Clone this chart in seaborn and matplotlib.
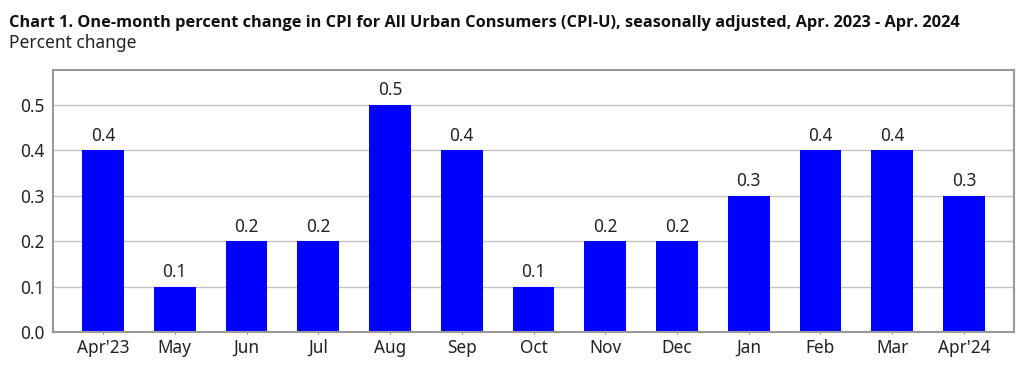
import matplotlib
matplotlib.use('Agg')
import matplotlib.pyplot as plt
import pandas as pd
import seaborn as sns

months = ["Apr'23", 'May', 'Jun', 'Jul', 'Aug', 'Sep', 'Oct', 'Nov', 'Dec', 'Jan', 'Feb', 'Mar', "Apr'24"]
values = [0.4, 0.1, 0.2, 0.2, 0.5, 0.4, 0.1, 0.2, 0.2, 0.3, 0.4, 0.4, 0.3]
y_ticks = [0.0, 0.1, 0.2, 0.3, 0.4, 0.5]

title = 'Chart 1. One-month percent change in CPI for All Urban Consumers (CPI-U), seasonally adjusted, Apr. 2023 - Apr. 2024'
subtitle = 'Percent change'


def main():
    sns.set_theme(style='white')
    plt.rcParams['font.family'] = ['Noto Sans']
    df = pd.DataFrame({'Month': months, 'Change': values})

    fig = plt.figure(figsize=(10.32, 3.82), dpi=100)
    ax = fig.add_axes([53 / 1032, 1 - 332 / 382, (1014 - 53) / 1032, (332 - 70) / 382])
    ax.yaxis.grid(True, color='#c4c4c4', linewidth=1)
    ax.set_axisbelow(True)
    sns.barplot(data=df, x='Month', y='Change', color='#0000ff', saturation=1, width=0.585,
                linewidth=0, ax=ax)

    for i, v in enumerate(values):
        ax.annotate(f'{v:.1f}', (i, v), xytext=(0, 4), textcoords='offset points',
                    ha='center', va='bottom', fontsize=12.4, color='#222222')

    ax.set_xlim(-0.697, 12.697)
    ax.set_ylim(0, 0.577)
    ax.set_yticks(y_ticks)
    ax.set_yticklabels([f'{t:.1f}' for t in y_ticks])
    ax.set_xlabel('')
    ax.set_ylabel('')
    ax.tick_params(axis='y', labelsize=12.4, labelcolor='#222222', length=0, pad=6)
    ax.tick_params(axis='x', labelsize=12.4, labelcolor='#222222', length=1.5, width=0.6,
                   color='#666666', pad=3.5, bottom=True)
    for side in ax.spines.values():
        side.set_color('#999999')
        side.set_linewidth(1.5)

    fig.text(9 / 1032, 1 - 23 / 382, title, fontsize=11.8, fontweight='bold', family=['Open Sans'],
             color='#111111', va='center')
    fig.text(9 / 1032, 1 - 43 / 382, subtitle, fontsize=12.5, color='#222222', va='center')

    fig.savefig('out.png', dpi=100)


if __name__ == '__main__':
    main()
